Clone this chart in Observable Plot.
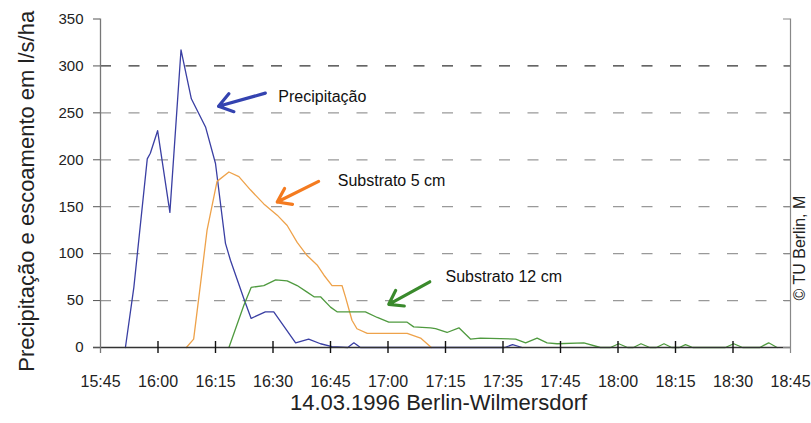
<!DOCTYPE html>
<html><head><meta charset="utf-8">
<script src="https://cdn.jsdelivr.net/npm/d3@7"></script>
<script src="https://cdn.jsdelivr.net/npm/@observablehq/plot@0.6"></script>
<style>body{margin:0;background:#fff} #chart svg{display:block}</style>
</head><body><div id="chart"></div>
<script>
// x in minutes after 15:45
const xTicks = [0, 15, 30, 45, 60, 75, 90, 105, 120, 135, 150, 165, 180];
const xTickLabels = ["15:45","16:00","16:15","16:30","16:45","17:00","17:15","17:35","17:45","18:00","18:15","18:30","18:45"];
const yTicks = [0, 50, 100, 150, 200, 250, 300, 350];
const gridValues = [50, 100, 150, 200, 250, 300];

const precipMin = [6.5, 8.7, 12.2, 13.0, 14.9, 18.1, 21.0, 23.7, 27.4, 30.0, 32.6, 33.9, 35.7, 37.4, 39.3, 43.0, 45.2, 50.9, 54.3, 57.4, 60.4, 64.5, 66.1, 67.8, 105.4, 107.5, 110];
const precipVal = [0, 64, 201, 207, 231, 144, 317, 265, 235, 196, 111, 93, 72, 52, 31, 38, 38, 5, 9, 4, 1, 0, 5, 0, 0, 3, 0];

const sub5Min = [22.4, 24.3, 26.1, 27.8, 30.4, 33.5, 36.1, 39.1, 42.6, 46.1, 48.7, 51.3, 53.9, 56.5, 58.3, 60.4, 63.0, 63.9, 65.6, 66.9, 69.6, 80.0, 83.5, 86.3];
const sub5Val = [0, 9, 68, 125, 177, 187, 182, 168, 153, 141, 130, 112, 98, 88, 77, 66, 66, 54, 29, 20, 15, 15, 10, 0];

const sub12Min = [33.5, 37.4, 39.3, 42.6, 45.7, 48.7, 51.3, 53.9, 55.7, 57.4, 60.0, 61.7, 69.1, 72.2, 75.2, 80.0, 81.7, 86.1, 87.4, 90.4, 93.5, 96.5, 99.1, 108.3, 110.9, 113.9, 116.5, 119.1, 126.1, 130.4, 133.0, 135.2, 137.5, 139.0, 141.0, 143.3, 145.0, 147.0, 149.0, 151.0, 152.6, 154.5, 163.0, 165.2, 167.5, 172.0, 174.3, 176.5];
const sub12Val = [0, 45, 64, 66, 72, 71, 66, 59, 54, 54, 43, 38, 38, 32, 27, 27, 22, 21, 20, 16, 21, 9, 10, 9, 5, 10, 5, 4, 5, 0, 0, 4, 0, 0, 4, 0, 0, 4, 0, 0, 3, 0, 0, 4, 0, 0, 5, 0];

const seriesNames = ["Precipitação", "Substrato 5 cm", "Substrato 12 cm"];
const seriesColors = ["#3a3fa3", "#eea24a", "#4f9a3f"];
const arrowColors = ["#3443b0", "#f47b20", "#3a8a2c"];
// annotation arrows (tail -> head) and label anchors, in data units
const arrowX1 = [43.0, 56.9, 85.9];
const arrowY1 = [271, 177, 70];
const arrowX2 = [30.8, 46.1, 75.2];
const arrowY2 = [257, 155, 46];
const labelX = [46.4, 61.9, 90.0];
const labelY = [267, 178, 75];

const xTitle = "14.03.1996 Berlin-Wilmersdorf";
const yTitle = "Precipitação e escoamento em l/s/ha";
const credit = "© TU Berlin, M";

const toRows = (ms, vs) => ms.map((m, i) => ({m, v: vs[i]}));
const series = [toRows(precipMin, precipVal), toRows(sub5Min, sub5Val), toRows(sub12Min, sub12Val)];
const annots = seriesNames.map((name, i) => ({name, x1: arrowX1[i], y1: arrowY1[i], x2: arrowX2[i], y2: arrowY2[i], lx: labelX[i], ly: labelY[i], color: arrowColors[i]}));
const labelMap = new Map(xTicks.map((t, i) => [t, xTickLabels[i]]));

const font = "'Liberation Sans', Arial, sans-serif";

const chart = Plot.plot({
  width: 811,
  height: 423,
  marginLeft: 100,
  marginRight: 21,
  marginTop: 18.5,
  marginBottom: 76,
  style: {fontFamily: font, background: "#fff"},
  x: {domain: [0, 180]},
  y: {domain: [0, 350]},
  marks: [
    Plot.ruleY(gridValues, {stroke: d => d === 300 ? "#333" : "#999", strokeDasharray: "11,17.5", strokeWidth: 1.2}),
    Plot.line(series[0], {x: "m", y: "v", stroke: seriesColors[0], strokeWidth: 1.3}),
    Plot.line(series[1], {x: "m", y: "v", stroke: seriesColors[1], strokeWidth: 1.3}),
    Plot.line(series[2], {x: "m", y: "v", stroke: seriesColors[2], strokeWidth: 1.3}),
    Plot.ruleY([0], {stroke: "#333", strokeWidth: 1.3, insetLeft: -7}),
    Plot.ruleX([0], {stroke: "#777", strokeWidth: 1.3, insetBottom: -6}),
    Plot.ruleX([180], {stroke: "#888", strokeWidth: 1.2, insetBottom: -6}),
    Plot.ruleY(yTicks, {stroke: "#888", insetLeft: 683}),
    Plot.ruleX(xTicks.slice(1, -1), {y1: () => 0, y2: () => 0, insetTop: 6, insetBottom: 6, stroke: "#111", strokeWidth: 1.4}),
    Plot.axisY({ticks: yTicks, tickSize: 7, tickPadding: 10, label: null, fontSize: 15, color: "#222", stroke: "#555"}),
    Plot.axisX({ticks: xTicks, tickSize: 0, tickPadding: 28, label: null, fontSize: 16, color: "#222", tickFormat: d => labelMap.get(d)}),
    Plot.arrow(annots, {x1: "x1", y1: "y1", x2: "x2", y2: "y2", stroke: "color", strokeWidth: 3.2, headLength: 9, headAngle: 70}),
    Plot.text(annots, {x: "lx", y: "ly", text: "name", textAnchor: "start", fontSize: 16, fill: "#111"}),
    Plot.text([yTitle], {frameAnchor: "left", textAnchor: "middle", dx: -74, dy: 8, rotate: -90, fontSize: 22, fill: "#222"}),
    Plot.text([xTitle], {frameAnchor: "bottom", textAnchor: "middle", dx: -7, dy: 62, fontSize: 22, fill: "#222"}),
    Plot.text([credit], {frameAnchor: "bottom-right", dx: 14.5, dy: -47, rotate: -90, textAnchor: "start", fontSize: 16, fill: "#222"})
  ]
});
document.getElementById("chart").appendChild(chart);
</script>
</body></html>
